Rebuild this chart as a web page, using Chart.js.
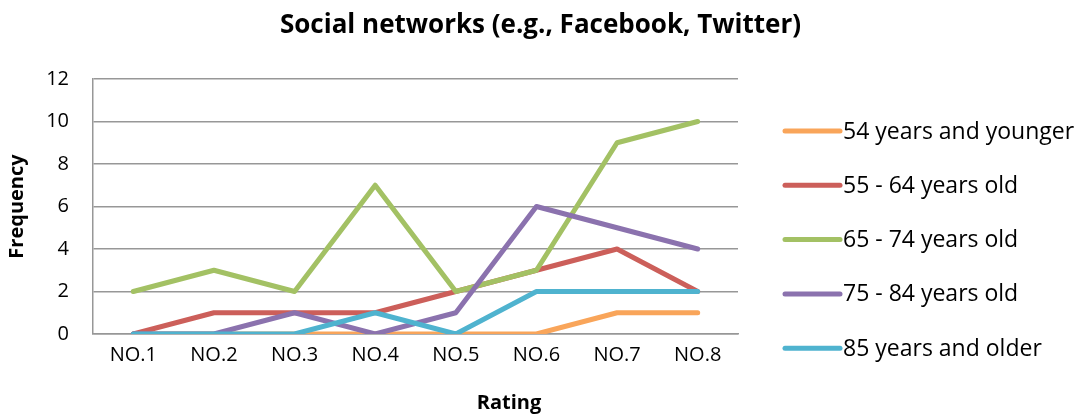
<!DOCTYPE html>
<html>
<head>
<meta charset="utf-8">
<title>Social networks</title>
<script src="https://cdn.jsdelivr.net/npm/chart.js@4/dist/chart.umd.min.js"></script>
<style>
    html, body { margin: 0; padding: 0; background: #fff; }
    #wrap { width: 1081px; height: 419px; }
</style>
</head>
<body>
<div id="wrap"><canvas id="ratingChart" width="1081" height="419"></canvas></div>
<script>
const ratings = ['NO.1', 'NO.2', 'NO.3', 'NO.4', 'NO.5', 'NO.6', 'NO.7', 'NO.8'];
const ageGroups = ['54 years and younger', '55 - 64 years old', '65 - 74 years old', '75 - 84 years old', '85 years and older'];
const age54Under = [0, 0, 0, 0, 0, 0, 1, 1];
const age55to64 = [0, 1, 1, 1, 2, 3, 4, 2];
const age65to74 = [2, 3, 2, 7, 2, 3, 9, 10];
const age75to84 = [0, 0, 1, 0, 1, 6, 5, 4];
const age85Over = [0, 0, 0, 1, 0, 2, 2, 2];
const yTicks = [0, 2, 4, 6, 8, 10, 12];
const chartTitle = 'Social networks (e.g., Facebook, Twitter)';
const xTitle = 'Rating';

const seriesValues = [age54Under, age55to64, age65to74, age75to84, age85Over];
const seriesColors = ['#F9A55A', '#CC5F5A', '#A3C164', '#8B72AE', '#4FB3CF'];

const FONT = '"Open Sans", Lato, sans-serif';
const GRID = '#979797';

// chart title, x axis title and the legend column on the right
const frameText = {
    id: 'frameText',
    afterDraw(chart) {
        const ctx = chart.ctx;
        const area = chart.chartArea;
        ctx.save();
        ctx.fillStyle = '#000';
        ctx.textBaseline = 'middle';
        ctx.textAlign = 'center';

        ctx.font = 'bold 26px ' + FONT;
        ctx.fillText(chartTitle, chart.width / 2, 26);

        ctx.font = 'bold 20px ' + FONT;
        ctx.fillText(xTitle, area.left + (area.right - area.left) * 0.645, 403);

        const x0 = area.right + 47;
        const lineLen = 55;
        const rowGap = 54.3;
        const y0 = 131;
        ctx.font = '23px ' + FONT;
        ctx.textAlign = 'left';
        chart.data.datasets.forEach((ds, i) => {
            const y = y0 + i * rowGap;
            ctx.strokeStyle = ds.borderColor;
            ctx.lineWidth = 5;
            ctx.lineCap = 'round';
            ctx.beginPath();
            ctx.moveTo(x0, y);
            ctx.lineTo(x0 + lineLen, y);
            ctx.stroke();
            ctx.fillText(ds.label, x0 + lineLen + 3, y + 1);
        });
        ctx.restore();
    }
};

const datasets = ageGroups.map((label, i) => ({
    label: label,
    data: seriesValues[i],
    borderColor: seriesColors[i],
    backgroundColor: seriesColors[i],
    borderWidth: 5,
    borderCapStyle: 'round',
    borderJoinStyle: 'round',
    pointRadius: 0,
    tension: 0,
    // later series sit on top
    order: ageGroups.length - i
}));

new Chart(document.getElementById('ratingChart'), {
    type: 'line',
    data: { labels: ratings, datasets: datasets },
    plugins: [frameText],
    options: {
        responsive: false,
        animation: false,
        layout: { padding: { left: 0, right: 343, top: 79, bottom: 0 } },
        plugins: {
            legend: { display: false },
            tooltip: { enabled: false },
            title: { display: false }
        },
        scales: {
            x: {
                offset: true,
                grid: { display: false, drawTicks: false },
                border: { display: true, color: GRID, width: 1.5 },
                ticks: {
                    color: '#000',
                    font: { family: FONT, size: 20 },
                    padding: 9,
                    maxRotation: 0
                },
                afterFit: s => { s.height = 85; }
            },
            y: {
                min: 0,
                max: 12,
                afterBuildTicks: s => { s.ticks = yTicks.map(v => ({ value: v })); },
                grid: { color: GRID, lineWidth: 1.5, drawTicks: false },
                border: { display: true, color: GRID, width: 1.5 },
                ticks: {
                    color: '#000',
                    font: { family: FONT, size: 20 },
                    padding: 24
                },
                title: {
                    display: true,
                    text: 'Frequency',
                    color: '#000',
                    font: { family: FONT, size: 20, weight: 'bold' },
                    padding: { top: 5, bottom: 4 }
                },
                afterFit: s => { s.width = 93; }
            }
        }
    }
});
</script>
</body>
</html>
